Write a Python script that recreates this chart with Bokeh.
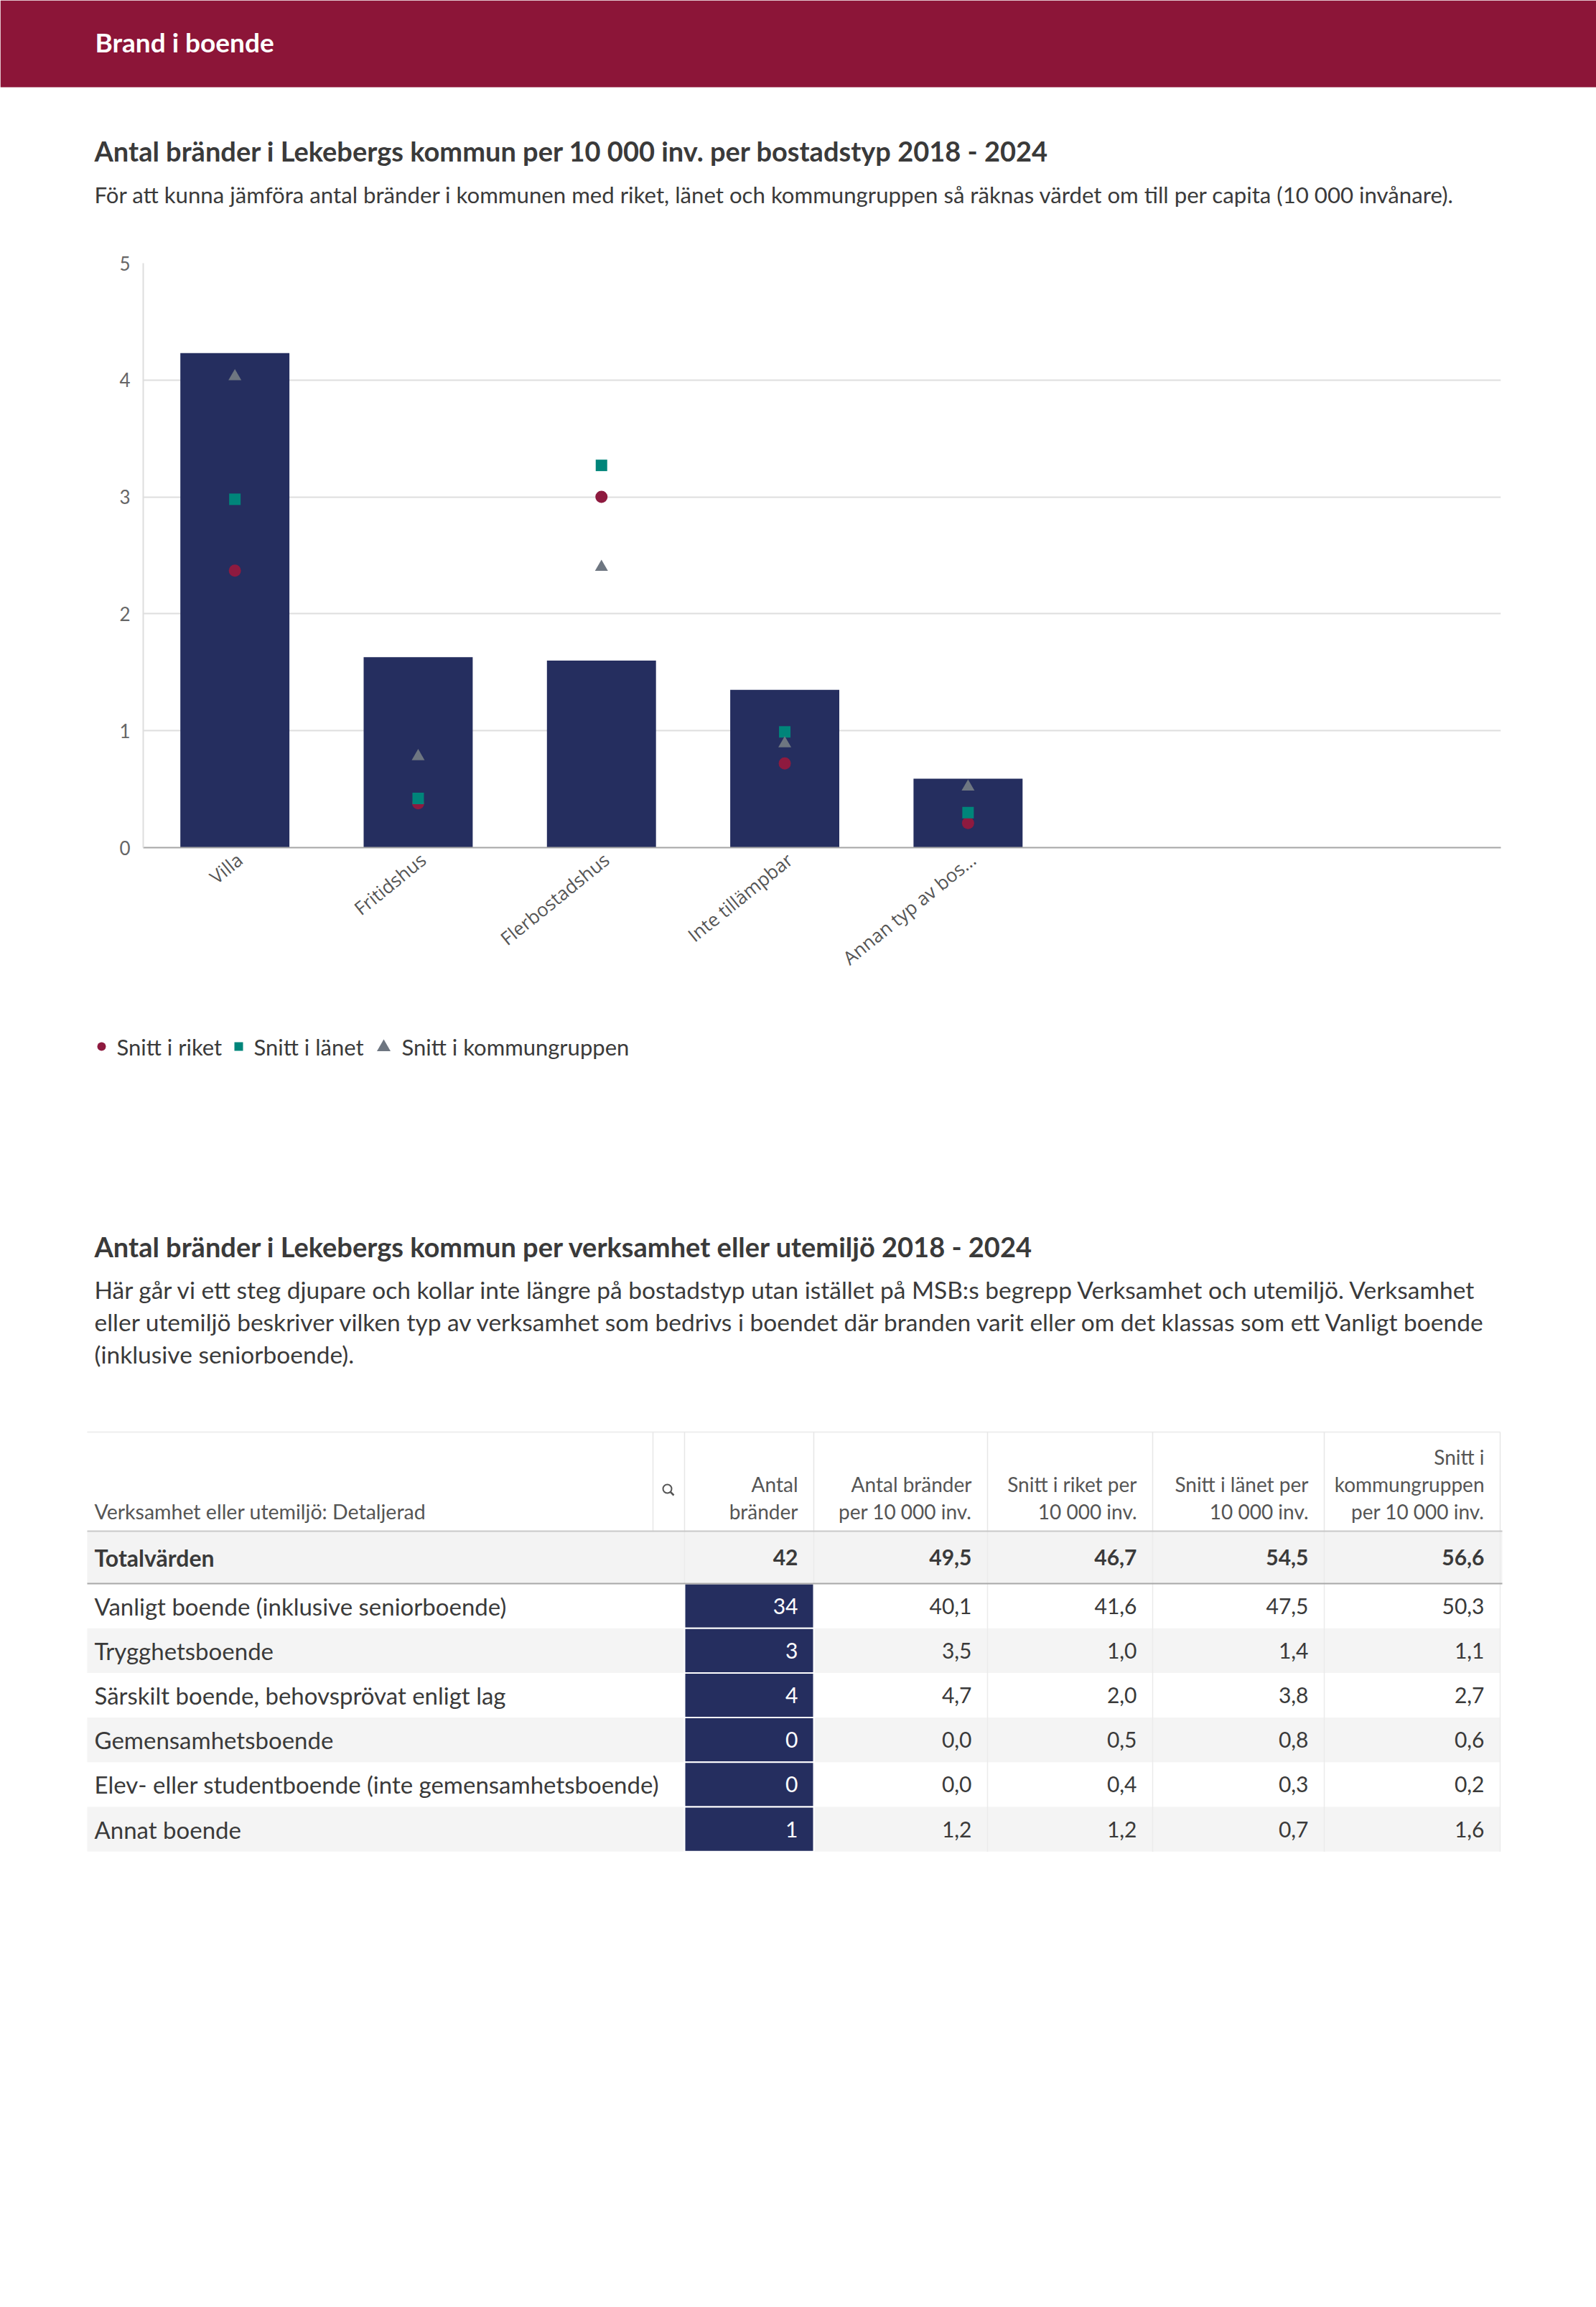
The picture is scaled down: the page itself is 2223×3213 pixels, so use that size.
from bokeh.plotting import figure
from bokeh.layouts import column
from bokeh.models import Range1d, FixedTicker, ColumnDataSource
from bokeh.core.properties import value
from bokeh.embed import file_html
from bokeh.resources import INLINE

# ---------------- data ----------------
categories = ["Villa", "Fritidshus", "Flerbostadshus", "Inte tillämpbar", "Annan typ av bos…"]
kommun = [4.23, 1.63, 1.60, 1.35, 0.59]
snitt_riket = [2.37, 0.38, 3.00, 0.72, 0.21]
snitt_lanet = [2.98, 0.42, 3.27, 0.99, 0.30]
snitt_kgrupp = [4.03, 0.78, 2.40, 0.89, 0.52]
y_ticks = [0, 1, 2, 3, 4, 5]
legend_labels = ["Snitt i riket", "Snitt i länet", "Snitt i kommungruppen"]

table_rows = ["Vanligt boende (inklusive seniorboende)", "Trygghetsboende",
              "Särskilt boende, behovsprövat enligt lag", "Gemensamhetsboende",
              "Elev- eller studentboende (inte gemensamhetsboende)", "Annat boende"]
antal_brander = [34, 3, 4, 0, 0, 1]
per_10000 = [40.1, 3.5, 4.7, 0.0, 0.0, 1.2]
riket_10000 = [41.6, 1.0, 2.0, 0.5, 0.4, 1.2]
lanet_10000 = [47.5, 1.4, 3.8, 0.8, 0.3, 0.7]
kgrupp_10000 = [50.3, 1.1, 2.7, 0.6, 0.2, 1.6]
totals_label = "Totalvärden"
totals = [42, 49.5, 46.7, 54.5, 56.6]
col_headers = [["Antal", "bränder"], ["Antal bränder", "per 10 000 inv."],
               ["Snitt i riket per", "10 000 inv."], ["Snitt i länet per", "10 000 inv."],
               ["Snitt i", "kommungruppen", "per 10 000 inv."]]
first_header = "Verksamhet eller utemiljö: Detaljerad"

page_title = "Brand i boende"
chart_title = "Antal bränder i Lekebergs kommun per 10 000 inv. per bostadstyp 2018 - 2024"
chart_sub = "För att kunna jämföra antal bränder i kommunen med riket, länet och kommungruppen så räknas värdet om till per capita (10 000 invånare)."
table_title = "Antal bränder i Lekebergs kommun per verksamhet eller utemiljö 2018 - 2024"
table_text = ["Här går vi ett steg djupare och kollar inte längre på bostadstyp utan istället på MSB:s begrepp Verksamhet och utemiljö. Verksamhet",
              "eller utemiljö beskriver vilken typ av verksamhet som bedrivs i boendet där branden varit eller om det klassas som ett Vanligt boende",
              "(inklusive seniorboende)."]

# ---------------- style ----------------
W = 2223
X0 = 0
FONT = "Lato"
CRIMSON = "#8C1538"
NAVY = "#252E5F"
C_RIKET = "#8E1A3F"
C_LANET = "#00857A"
C_KGRUPP = "#6E7681"
TXT = "#3A3A3A"


def fmt(v):
    return f"{v:.1f}".replace(".", ",")


def page_fig(top, bottom):
    p = figure(width=W, height=bottom - top, x_range=Range1d(X0, X0 + W),
               y_range=Range1d(bottom, top), output_backend="svg",
               toolbar_location=None, min_border=0,
               x_axis_location=None, y_axis_location=None)
    p.frame_align = False
    p.grid.visible = False
    p.outline_line_color = None
    p.background_fill_color = "white"
    p.border_fill_color = "white"
    return p


def txt(p, x, y, s, size, color=TXT, bold=False, align="left", baseline="middle", font=FONT):
    p.text(x=[x], y=[y], text=[s], text_font=value(font), text_font_size=value(f"{size}px"),
           text_color=color, text_font_style="bold" if bold else "normal",
           text_align=align, text_baseline=baseline)


# ---------------- top: header + titles ----------------
A_TOP, A_BOT = 0, 340
pa = page_fig(A_TOP, A_BOT)
pa.quad(left=[X0], right=[X0 + W], top=[A_TOP], bottom=[121], fill_color=CRIMSON, line_color=None)
txt(pa, 132, 58, page_title, 37, color="white", bold=True)
txt(pa, 131, 209, chart_title, 38, bold=True)
txt(pa, 131, 270, chart_sub, 31.2)

# ---------------- chart ----------------
B_TOP, B_BOT = 340, 1420
FR_L, FR_R, FR_T, FR_B = 199, 2090, 366, 1180
slot = 255.3
xs = [i + 0.5 for i in range(len(categories))]
label_pos = [x + 0.027 for x in xs]
pb = figure(width=W, height=B_BOT - B_TOP,
            x_range=Range1d(0, (FR_R - FR_L) / slot), y_range=Range1d(0, 5),
            output_backend="svg", toolbar_location=None,
            min_border_left=FR_L - X0, min_border_right=X0 + W - FR_R,
            min_border_top=FR_T - B_TOP, min_border_bottom=B_BOT - FR_B)
pb.frame_align = False
pb.outline_line_color = None
pb.xgrid.visible = False
pb.ygrid.grid_line_color = "#DEDEDE"
pb.ygrid.grid_line_width = 2
pb.background_fill_color = "white"
pb.border_fill_color = "white"

pb.vbar(x=xs, top=kommun, width=0.595, bottom=0, fill_color=NAVY, line_color=None)
pb.scatter(xs, snitt_riket, marker="circle", size=17, fill_color=C_RIKET, line_color=None)
pb.scatter(xs, snitt_lanet, marker="square", size=16, fill_color=C_LANET, line_color=None)
pb.scatter(xs, snitt_kgrupp, marker="triangle", size=18, fill_color=C_KGRUPP, line_color=None)

ya = pb.yaxis[0]
ya.ticker = FixedTicker(ticks=y_ticks)
ya.major_tick_line_color = None
ya.minor_tick_line_color = None
ya.axis_line_color = "#DEDEDE"
ya.axis_line_width = 2
ya.major_label_text_font = FONT
ya.major_label_text_font_size = "26px"
ya.major_label_text_color = "#666666"
ya.major_label_standoff = 12

xa = pb.xaxis[0]
xa.ticker = FixedTicker(ticks=label_pos)
xa.major_label_overrides = {x: c for x, c in zip(label_pos, categories)}
xa.major_label_orientation = 0.68
xa.major_tick_line_color = None
xa.minor_tick_line_color = None
xa.axis_line_color = "#A6A6A6"
xa.axis_line_width = 2
xa.major_label_text_font = "Open Sans"
xa.major_label_text_font_size = "26px"
xa.major_label_text_color = "#555555"
xa.major_label_standoff = 7

# ---------------- legend + table section ----------------
C_TOP, C_BOT = 1420, 2660
pc = page_fig(C_TOP, C_BOT)
LY = 1457
pc.scatter([141], [LY], marker="circle", size=12, fill_color=C_RIKET, line_color=None)
txt(pc, 162, LY, legend_labels[0], 31)
pc.scatter([332], [LY], marker="square", size=12, fill_color=C_LANET, line_color=None)
txt(pc, 353, LY, legend_labels[1], 31)
pc.scatter([534], [LY + 1], marker="triangle", size=19, fill_color=C_KGRUPP, line_color=None)
txt(pc, 559, LY, legend_labels[2], 31)

txt(pc, 131, 1735, table_title, 38, bold=True)
for i, line in enumerate(table_text):
    txt(pc, 131, 1795 + i * 45, line, 33.5)

# table geometry
cols = [121, 953, 1133, 1375, 1605, 1844, 2089]
H_TOP, H_BOT = 1994, 2132
T_BOT = 2205
RH = 62.2
n = len(table_rows)
row_top = [T_BOT + i * RH for i in range(n)]
odd = [i for i in range(n) if i % 2 == 1]

# backgrounds
pc.quad(left=[cols[0]], right=[cols[-1] + 3], top=[H_BOT], bottom=[T_BOT], fill_color="#F3F3F3", line_color=None)
pc.quad(left=[cols[0]] * len(odd), right=[cols[-1]] * len(odd),
        top=[row_top[i] for i in odd], bottom=[row_top[i] + RH for i in odd],
        fill_color="#F4F4F4", line_color=None)
# navy cells
pc.quad(left=[cols[1]] * n, right=[cols[2]] * n, top=row_top, bottom=[t + RH for t in row_top],
        fill_color=NAVY, line_color="white", line_width=2)

# lines
pc.segment(x0=[cols[0]], y0=[H_TOP], x1=[cols[-1]], y1=[H_TOP], line_color="#EEEEEE", line_width=2)
vx = [909] + cols[1:]
pc.segment(x0=vx, y0=[H_TOP] * len(vx), x1=vx, y1=[H_BOT] * len(vx), line_color="#E6E6E6", line_width=1.5)
vx2 = cols[3:]
pc.segment(x0=vx2, y0=[H_BOT] * len(vx2), x1=vx2, y1=[row_top[-1] + RH] * len(vx2), line_color="#EBEBEB", line_width=1.5)
pc.segment(x0=[cols[2]], y0=[H_BOT], x1=[cols[2]], y1=[T_BOT], line_color="#EBEBEB", line_width=1.5)
pc.segment(x0=[cols[1]], y0=[H_BOT], x1=[cols[1]], y1=[T_BOT], line_color="#EBEBEB", line_width=1.5)
pc.segment(x0=[cols[0]], y0=[H_BOT], x1=[cols[-1] + 3], y1=[H_BOT], line_color="#C8C8C8", line_width=2)
pc.segment(x0=[cols[0]], y0=[T_BOT], x1=[cols[-1] + 3], y1=[T_BOT], line_color="#A8A8A8", line_width=2)

# search icon
pc.scatter([929], [2073], marker="circle", size=12, fill_color=None, line_color="#555555", line_width=2)
pc.segment(x0=[933], y0=[2077], x1=[938], y1=[2082], line_color="#555555", line_width=2.5)

# header texts
PAD = 22
txt(pc, 131, 2104, first_header, 28.5, color="#555555")
for j, lines in enumerate(col_headers):
    xr = cols[j + 2] - PAD
    for k, line in enumerate(reversed(lines)):
        txt(pc, xr, 2104 - k * 38, line, 28, color="#555555", align="right")

# totals row
tc = (H_BOT + T_BOT) / 2
txt(pc, 131, tc, totals_label, 32, bold=True)
for j, v in enumerate(totals):
    s = str(v) if j == 0 else fmt(v)
    txt(pc, cols[j + 2] - PAD, tc, s, 30, bold=True, align="right")

# data rows
centers = [t + RH / 2 for t in row_top]
src = ColumnDataSource(dict(x=[131] * n, y=centers, t=table_rows))
pc.text(x="x", y="y", text="t", source=src, text_font=value(FONT), text_font_size=value("33px"),
        text_color=TXT, text_baseline="middle", text_align="left")
pc.text(x=[cols[2] - PAD] * n, y=centers, text=[str(v) for v in antal_brander],
        text_font=value(FONT), text_font_size=value("30px"), text_color="white",
        text_baseline="middle", text_align="right")
for j, vals in enumerate([per_10000, riket_10000, lanet_10000, kgrupp_10000]):
    pc.text(x=[cols[j + 3] - PAD] * n, y=centers, text=[fmt(v) for v in vals],
            text_font=value(FONT), text_font_size=value("30px"), text_color=TXT,
            text_baseline="middle", text_align="right")

layout = column(pa, pb, pc, spacing=0)
open("out.html", "w").write(file_html(layout, INLINE))
